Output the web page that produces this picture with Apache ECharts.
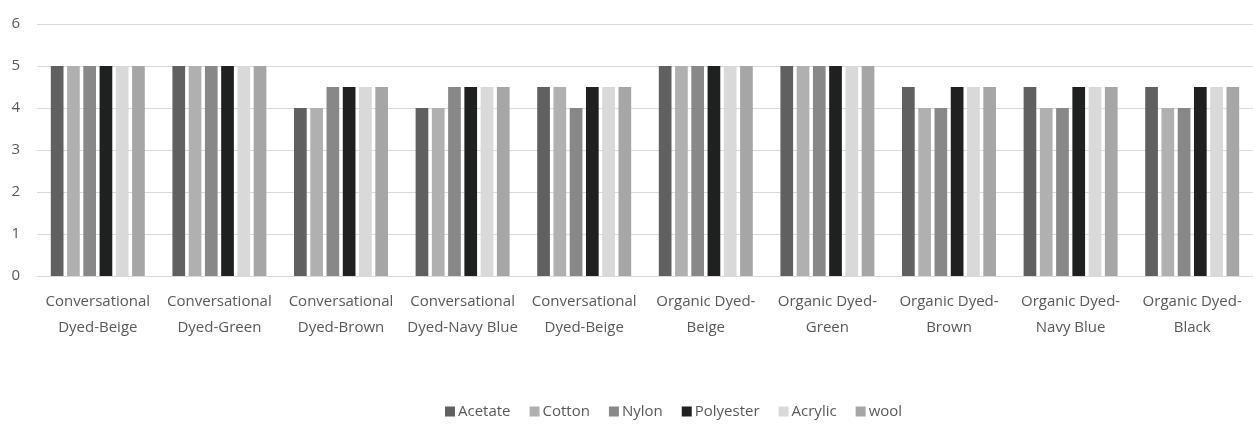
<!DOCTYPE html>
<html>
<head>
<meta charset="utf-8">
<script src="https://cdn.jsdelivr.net/npm/echarts@6/dist/echarts.min.js"></script>
<style>
  html, body { margin: 0; padding: 0; background: #fff; }
  #chart { width: 1253px; height: 424px; }
</style>
</head>
<body>
<div id="chart"></div>
<script>
// Fabric samples (category axis)
const categories = [
  'Conversational\nDyed-Beige',
  'Conversational\nDyed-Green',
  'Conversational\nDyed-Brown',
  'Conversational\nDyed-Navy Blue',
  'Conversational\nDyed-Beige',
  'Organic Dyed-\nBeige',
  'Organic Dyed-\nGreen',
  'Organic Dyed-\nBrown',
  'Organic Dyed-\nNavy Blue',
  'Organic Dyed-\nBlack'
];

// Ratings per fibre
const acetate   = [5, 5, 4,   4,   4.5, 5, 5, 4.5, 4.5, 4.5];
const cotton    = [5, 5, 4,   4,   4.5, 5, 5, 4,   4,   4];
const nylon     = [5, 5, 4.5, 4.5, 4,   5, 5, 4,   4,   4];
const polyester = [5, 5, 4.5, 4.5, 4.5, 5, 5, 4.5, 4.5, 4.5];
const acrylic   = [5, 5, 4.5, 4.5, 4.5, 5, 5, 4.5, 4.5, 4.5];
const wool      = [5, 5, 4.5, 4.5, 4.5, 5, 5, 4.5, 4.5, 4.5];

const yTicks = [0, 1, 2, 3, 4, 5, 6];

const seriesDefs = [
  { name: 'Acetate',   data: acetate,   color: '#606060' },
  { name: 'Cotton',    data: cotton,    color: '#b0b0b0' },
  { name: 'Nylon',     data: nylon,     color: '#888888' },
  { name: 'Polyester', data: polyester, color: '#1f2020' },
  { name: 'Acrylic',   data: acrylic,   color: '#d9d9d9' },
  { name: 'wool',      data: wool,      color: '#a6a6a6' }
];

const textColor = '#595959';
const fontFamily = '"Open Sans", "DejaVu Sans", sans-serif';

const chart = echarts.init(document.getElementById('chart'), null, { renderer: 'canvas' });

chart.setOption({
  animation: false,
  backgroundColor: '#ffffff',
  textStyle: { fontFamily: fontFamily },
  grid: { left: 37, right: 0, top: 24, bottom: 148, containLabel: false },
  legend: {
    bottom: 0,
    left: 440,
    itemWidth: 10,
    itemHeight: 10,
    itemGap: 19,
    icon: 'rect',
    textStyle: { color: textColor, fontSize: 15, fontFamily: fontFamily, padding: [0, 0, 0, -2] },
    data: seriesDefs.map(s => s.name)
  },
  xAxis: {
    type: 'category',
    data: categories,
    axisLine: { show: true, lineStyle: { color: '#d9d9d9', width: 1 } },
    axisTick: { show: false },
    axisLabel: {
      color: textColor,
      fontSize: 15,
      lineHeight: 26,
      margin: 13,
      interval: 0,
      fontFamily: fontFamily
    }
  },
  yAxis: {
    type: 'value',
    min: yTicks[0],
    max: yTicks[yTicks.length - 1],
    interval: 1,
    axisLine: { show: false },
    axisTick: { show: false },
    splitLine: { lineStyle: { color: '#d9d9d9', width: 1 } },
    axisLabel: { color: textColor, fontSize: 15, margin: 17, fontFamily: fontFamily }
  },
  series: seriesDefs.map(s => ({
    name: s.name,
    type: 'bar',
    data: s.data,
    barWidth: 12.7,
    barGap: '28%',
    itemStyle: { color: s.color }
  }))
});
</script>
</body>
</html>
